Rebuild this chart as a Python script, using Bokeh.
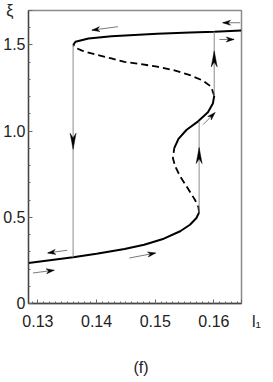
import math
from bokeh.plotting import figure
from bokeh.models import Range1d, FixedTicker
from bokeh.embed import file_html
from bokeh.resources import INLINE

# ---- data ----
lower_solid_x = [0.12840, 0.13600, 0.14000, 0.14477, 0.14811, 0.15146, 0.15425, 0.15592, 0.15702, 0.15748]
lower_solid_y = [0.235, 0.268, 0.289, 0.316, 0.341, 0.376, 0.419, 0.457, 0.496, 0.529]

mid_dashed_x = [0.15748, 0.15735, 0.15676, 0.15535, 0.15425, 0.15341, 0.15301, 0.15324]
mid_dashed_y = [0.529, 0.560, 0.602, 0.679, 0.737, 0.795, 0.843, 0.901]

mid_solid_x = [0.15324, 0.15396, 0.15535, 0.15731, 0.15898, 0.15982, 0.16005]
mid_solid_y = [0.901, 0.955, 1.008, 1.057, 1.110, 1.160, 1.205]

upper_dashed_x = [0.16005, 0.15953, 0.15814, 0.15592, 0.15313, 0.15033, 0.14699, 0.14477, 0.14254, 0.13975, 0.13752, 0.13640, 0.13602]
upper_dashed_y = [1.205, 1.258, 1.293, 1.325, 1.354, 1.374, 1.392, 1.402, 1.422, 1.445, 1.467, 1.484, 1.499]

upper_solid_x = [0.13602, 0.13640, 0.13863, 0.14254, 0.14644, 0.15033, 0.15592, 0.16010, 0.16467]
upper_solid_y = [1.499, 1.519, 1.538, 1.551, 1.558, 1.565, 1.572, 1.577, 1.584]

# vertical jumps (hysteresis)
jump_x = [0.13600, 0.15748, 0.16005]
jump_y0 = [1.499, 0.529, 1.205]
jump_y1 = [0.268, 1.057, 1.577]
jump_tip_y = [0.895, 0.905, 1.466]
jump_dir = [-1, 1, 1]

# small direction arrows (start -> end)
sa_x0 = [0.14365, 0.16448, 0.16094, 0.13502, 0.12916, 0.14560, 0.15816]
sa_y0 = [1.606, 1.629, 1.532, 0.309, 0.177, 0.264, 1.038]
sa_x1 = [0.13920, 0.16149, 0.16344, 0.13167, 0.13278, 0.15007, 0.16020]
sa_y1 = [1.586, 1.629, 1.532, 0.293, 0.193, 0.293, 1.108]

X0, X1 = 0.1284, 0.1647
Y0, Y1 = 0.0, 1.7

x_ticks = [0.13, 0.14, 0.15, 0.16]
x_tick_labels = ["0.13", "0.14", "0.15", "0.16"]
y_ticks = [0.0, 0.5, 1.0, 1.5]
y_tick_labels = ["0", "0.5", "1.0", "1.5"]
x_name = "l\u2081"
y_name = "\u03be"
panel_tag = "(f)"

FW, FH = 217, 293
KX = FW / (X1 - X0)
KY = FH / (Y1 - Y0)

TICK_FONT = "Liberation Sans"

p = figure(width=265, height=380, x_range=Range1d(X0, X1), y_range=Range1d(Y0, Y1),
           output_backend="svg", toolbar_location=None,
           min_border_left=24, min_border_right=24, min_border_top=10, min_border_bottom=77)
p.grid.visible = False
p.outline_line_color = "#8a8a8a"
p.outline_line_width = 1.5
p.background_fill_color = "white"
p.border_fill_color = "white"

# axis names are placed as tick labels at the range ends (padded to sit where the original has them)
xo = dict(zip(x_ticks, x_tick_labels))
xo[X1] = "\u2007\u2007\u2007\u2009" + x_name
yo = dict(zip(y_ticks, y_tick_labels))
yo[Y1] = y_name + "\u2007\u2009"

p.xaxis.ticker = FixedTicker(ticks=x_ticks + [X1], minor_ticks=[round(0.128 + 0.001 * i, 4) for i in range(0, 38)])
p.yaxis.ticker = FixedTicker(ticks=y_ticks + [Y1], minor_ticks=[round(0.1 * i, 2) for i in range(0, 18)])
p.xaxis.major_label_overrides = xo
p.yaxis.major_label_overrides = yo
for ax in (p.xaxis, p.yaxis):
    ax.axis_line_color = "#444444"
    ax.axis_line_width = 1.3
    ax.major_tick_in = 4
    ax.major_tick_out = 0
    ax.minor_tick_in = 2
    ax.minor_tick_out = 0
    ax.major_tick_line_color = "#666666"
    ax.minor_tick_line_color = "#666666"
    ax.major_label_text_font = TICK_FONT
    ax.major_label_text_font_size = "16px"
    ax.major_label_text_color = "#222222"
p.xaxis.major_label_standoff = 9
p.yaxis.major_label_standoff = 3

p.xaxis.axis_label = "\u2007\u2009" + panel_tag
p.xaxis.axis_label_text_font = TICK_FONT
p.xaxis.axis_label_text_font_style = "normal"
p.xaxis.axis_label_text_font_size = "16px"
p.xaxis.axis_label_text_color = "#222222"
p.xaxis.axis_label_standoff = 26

# curves
p.line(lower_solid_x, lower_solid_y, line_color="black", line_width=2)
p.line(mid_dashed_x, mid_dashed_y, line_color="black", line_width=1.8, line_dash="7 4")
p.line(mid_solid_x, mid_solid_y, line_color="black", line_width=2)
p.line(upper_dashed_x, upper_dashed_y, line_color="black", line_width=1.8, line_dash="7 4")
p.line(upper_solid_x, upper_solid_y, line_color="black", line_width=2)

# jumps
p.segment(jump_x, jump_y0, jump_x, jump_y1, line_color="#8c8c8c", line_width=1)


def head(tx, ty, dx, dy, L, W):
    n = math.hypot(dx, dy)
    ux, uy = dx / n, dy / n
    qx, qy = -uy, ux
    offs = [(0, 0),
            (-L * ux + W / 2 * qx, -L * uy + W / 2 * qy),
            (-0.7 * L * ux, -0.7 * L * uy),
            (-L * ux - W / 2 * qx, -L * uy - W / 2 * qy)]
    return [tx + ox / KX for ox, oy in offs], [ty + oy / KY for ox, oy in offs]


hx, hy = [], []
for x, ty, d in zip(jump_x, jump_tip_y, jump_dir):
    a, b = head(x, ty, 0, d, 16, 6)
    hx.append(a)
    hy.append(b)

p.segment(sa_x0, sa_y0, sa_x1, sa_y1, line_color="#7a7a7a", line_width=1)
for x0, y0, x1, y1 in zip(sa_x0, sa_y0, sa_x1, sa_y1):
    a, b = head(x1, y1, (x1 - x0) * KX, (y1 - y0) * KY, 8, 5)
    hx.append(a)
    hy.append(b)
p.patches(hx, hy, fill_color="black", line_color="black", line_width=0.5)

open("out.html", "w").write(file_html(p, INLINE))
